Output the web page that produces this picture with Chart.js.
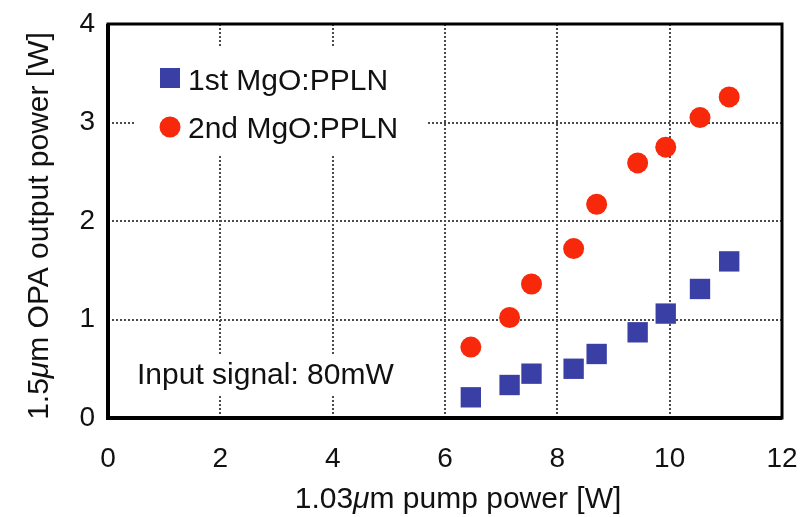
<!DOCTYPE html>
<html lang="en">
<head>
    <meta charset="UTF-8">
    <title>OPA output power</title>
    <script src="https://cdn.jsdelivr.net/npm/chart.js"></script>
    <style>
        body {
            margin: 0;
            background-color: #ffffff;
        }
        canvas {
            display: block;
        }
    </style>
</head>
<body>
    <canvas id="opaChart" width="801" height="517"></canvas>

    <script>
        // pump power [W], same for both crystals
        const pumpPower = [6.46, 7.15, 7.54, 8.29, 8.70, 9.43, 9.93, 10.54, 11.06];
        const firstPPLN = [0.21, 0.335, 0.45, 0.50, 0.65, 0.87, 1.06, 1.31, 1.59];
        const secondPPLN = [0.72, 1.02, 1.36, 1.72, 2.17, 2.59, 2.75, 3.05, 3.26];
        const seriesNames = ['1st MgO:PPLN', '2nd MgO:PPLN'];
        const xTicks = [0, 2, 4, 6, 8, 10, 12];
        const yTicks = [0, 1, 2, 3, 4];
        const annotationText = 'Input signal: 80mW';

        const FONT = '"Liberation Sans", Arial, Helvetica, sans-serif';
        const BLUE = '#3a3fa6';
        const RED = '#f7290a';

        const toPoints = ys => ys.map((y, i) => ({ x: pumpPower[i], y: y }));

        // draws text pieces side by side, some of them italic
        function drawPieces(ctx, pieces, size) {
            let x = 0;
            pieces.forEach(p => {
                ctx.font = (p.italic ? 'italic ' : '') + size + 'px ' + FONT;
                ctx.fillText(p.t, x, 0);
                x += ctx.measureText(p.t).width;
            });
        }
        function piecesWidth(ctx, pieces, size) {
            let w = 0;
            pieces.forEach(p => {
                ctx.font = (p.italic ? 'italic ' : '') + size + 'px ' + FONT;
                w += ctx.measureText(p.t).width;
            });
            return w;
        }

        const decorations = {
            id: 'decorations',
            beforeDatasetsDraw(chart) {
                const ctx = chart.ctx;
                const area = chart.chartArea;
                ctx.save();
                // white backing behind legend and note (hides grid)
                ctx.fillStyle = '#ffffff';
                ctx.fillRect(area.left + 28, 47, 290, 107);
                ctx.fillRect(area.left + 22, 355, 290, 40);

                // legend
                ctx.fillStyle = '#111';
                ctx.font = '30px ' + FONT;
                ctx.textBaseline = 'alphabetic';
                ctx.fillText(seriesNames[0], 188, 90);
                ctx.fillText(seriesNames[1], 188, 138);
                ctx.fillStyle = BLUE;
                ctx.fillRect(160, 68, 20, 20);
                ctx.fillStyle = RED;
                ctx.beginPath();
                ctx.arc(170, 127, 10.5, 0, Math.PI * 2);
                ctx.fill();

                // note
                ctx.fillStyle = '#111';
                ctx.font = '30px ' + FONT;
                ctx.fillText(annotationText, 137, 384);
                ctx.restore();
            },
            afterDatasetsDraw(chart) {
                const ctx = chart.ctx;
                const area = chart.chartArea;
                ctx.save();
                ctx.strokeStyle = '#000';
                ctx.lineWidth = 3;
                ctx.strokeRect(area.left, area.top, area.right - area.left, area.bottom - area.top);
                ctx.lineWidth = 4;
                ctx.beginPath();
                ctx.moveTo(area.left, area.top);
                ctx.lineTo(area.left, area.bottom);
                ctx.lineTo(area.right, area.bottom);
                ctx.stroke();

                // axis titles with italic mu
                ctx.fillStyle = '#111';
                ctx.textBaseline = 'alphabetic';
                const xTitle = [{ t: '1.03' }, { t: '\u03bc', italic: true }, { t: 'm pump power [W]' }];
                const xw = piecesWidth(ctx, xTitle, 30);
                ctx.save();
                ctx.translate(458 - xw / 2, 508);
                drawPieces(ctx, xTitle, 30);
                ctx.restore();

                const yTitle = [{ t: '1.5' }, { t: '\u03bc', italic: true }, { t: 'm OPA output power [W]' }];
                const yw = piecesWidth(ctx, yTitle, 30);
                ctx.save();
                ctx.translate(48, 226 + yw / 2);
                ctx.rotate(-Math.PI / 2);
                drawPieces(ctx, yTitle, 30);
                ctx.restore();
                ctx.restore();
            }
        };

        const ctx = document.getElementById('opaChart').getContext('2d');
        const opaChart = new Chart(ctx, {
            type: 'scatter',
            data: {
                datasets: [
                    {
                        label: seriesNames[0],
                        data: toPoints(firstPPLN),
                        pointStyle: 'rect',
                        pointRadius: 14.4,
                        pointHoverRadius: 14.4,
                        backgroundColor: BLUE,
                        borderWidth: 0
                    },
                    {
                        label: seriesNames[1],
                        data: toPoints(secondPPLN),
                        pointStyle: 'circle',
                        pointRadius: 10.5,
                        pointHoverRadius: 10.5,
                        backgroundColor: RED,
                        borderWidth: 0
                    }
                ]
            },
            options: {
                responsive: false,
                devicePixelRatio: 1,
                animation: false,
                layout: { padding: { top: 24, right: 19, left: 0, bottom: 0 } },
                plugins: {
                    legend: { display: false },
                    tooltip: { enabled: false }
                },
                scales: {
                    x: {
                        type: 'linear',
                        min: 0,
                        max: 12,
                        afterFit: scale => {
                            scale.height = 99;
                            scale.paddingLeft = 0;
                            scale.paddingRight = 0;
                        },
                        afterBuildTicks: scale => { scale.ticks = xTicks.map(v => ({ value: v })); },
                        ticks: {
                            font: { family: FONT, size: 28 },
                            color: '#111',
                            padding: 24,
                            maxRotation: 0
                        },
                        grid: {
                            color: ctx => (ctx.tick && (ctx.tick.value === 0 || ctx.tick.value === 12)) ? 'rgba(0,0,0,0)' : '#4a4a4a',
                            lineWidth: 2,
                            drawTicks: false
                        },
                        border: { display: false, dash: [2, 2] }
                    },
                    y: {
                        min: 0,
                        max: 4,
                        afterFit: scale => {
                            scale.width = 108;
                            scale.paddingTop = 0;
                            scale.paddingBottom = 0;
                        },
                        afterBuildTicks: scale => { scale.ticks = yTicks.map(v => ({ value: v })); },
                        ticks: {
                            font: { family: FONT, size: 28 },
                            color: '#111',
                            padding: 13
                        },
                        grid: {
                            color: ctx => (ctx.tick && (ctx.tick.value === 0 || ctx.tick.value === 4)) ? 'rgba(0,0,0,0)' : '#4a4a4a',
                            lineWidth: 2,
                            drawTicks: false
                        },
                        border: { display: false, dash: [2, 2] }
                    }
                }
            },
            plugins: [decorations]
        });
    </script>
</body>
</html>
